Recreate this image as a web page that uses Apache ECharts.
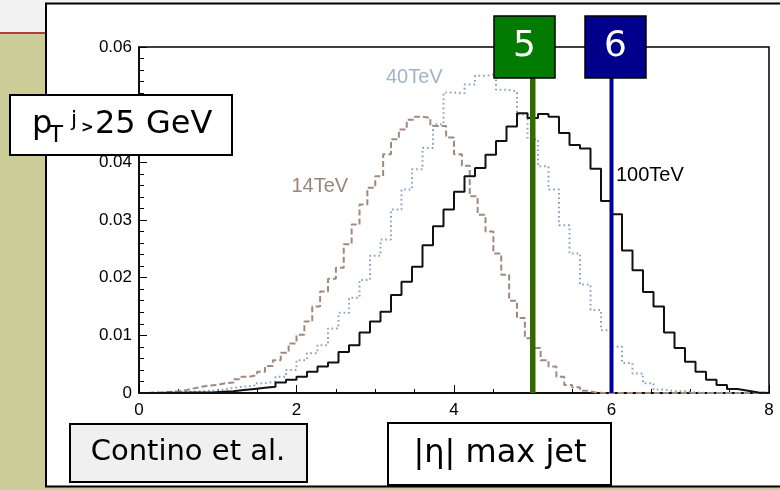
<!DOCTYPE html>
<html>
<head>
<meta charset="utf-8">
<script src="https://cdn.jsdelivr.net/npm/echarts@6/dist/echarts.min.js"></script>
<style>
html,body{margin:0;padding:0;background:#f2f2f2;}
#chart{width:780px;height:490px;}
</style>
</head>
<body>
<div id="chart"></div>
<script>
// ---- data ----
const etaMin = 0, etaMax = 8;
const bins100 = 60, bins40 = 60, bins14 = 80;
const h14 = [0,0.0001,0.0001,0.0002,0.0003,0.0005,0.0008,0.0011,0.0013,0.0014,
  0.0017,0.0018,0.0024,0.0028,0.0031,0.0037,0.0047,0.0057,0.007,0.0086,
  0.0101,0.0124,0.015,0.0176,0.0198,0.0217,0.0258,0.0292,0.0327,0.0356,
  0.0376,0.0414,0.044,0.0457,0.0474,0.0479,0.0477,0.0463,0.0463,0.0443,
  0.0414,0.0394,0.0341,0.0309,0.028,0.0242,0.0205,0.016,0.013,0.0095,
  0.0078,0.0057,0.0046,0.0028,0.0014,0.001,0.0004,0.0001,0,0,
  0,0,0,0,0,0,0,0,0,0,0,0,0,0,0,0,0,0,0,0];
const h40 = [0,0.0001,0.0001,0.0002,0.0002,0.0003,0.0004,0.0006,0.0009,0.0011,
  0.0013,0.0017,0.002,0.0028,0.004,0.0057,0.0069,0.0083,0.0112,0.0139,
  0.0165,0.0196,0.0238,0.0266,0.0318,0.0353,0.0388,0.0425,0.0466,0.0521,
  0.052,0.0535,0.055,0.0553,0.0526,0.0523,0.0483,0.044,0.0393,0.0353,
  0.0291,0.0242,0.0188,0.0144,0.0109,0.008,0.0052,0.0034,0.0017,0.0006,
  0.0003,0.0003,0.0001,0,0,0,0,0,0,0];
const h100 = [0,0,0.00005,0.00005,0.0001,0.0001,0.0001,0.0002,0.0003,0.0005,
  0.0007,0.0009,0.0011,0.0018,0.0023,0.0028,0.0037,0.0046,0.0053,0.0071,
  0.0083,0.0105,0.0124,0.0141,0.017,0.0193,0.0219,0.0256,0.0289,0.0318,
  0.0349,0.0376,0.039,0.0413,0.0437,0.0462,0.0485,0.0477,0.0484,0.0479,
  0.0451,0.043,0.0424,0.0389,0.0333,0.031,0.0247,0.0213,0.0175,0.015,
  0.0105,0.0078,0.0054,0.0037,0.0023,0.0014,0.0007,0.0004,0.0001,0];
const cutValues = [5, 6];
const cutLabels = ['5', '6'];
const cutTop = 0.0547;
const xTicks = [0, 2, 4, 6, 8];
const yTicks = [0, 0.01, 0.02, 0.03, 0.04, 0.05, 0.06];
const seriesNames = ['14TeV', '40TeV', '100TeV'];

function steps(vals, nb) {
  const w = (etaMax - etaMin) / nb;
  const pts = [];
  vals.forEach((v, i) => { pts.push([etaMin + i * w, v]); pts.push([etaMin + (i + 1) * w, v]); });
  return pts;
}

const chart = echarts.init(document.getElementById('chart'), null, {renderer: 'canvas'});
const axisFont = {fontFamily: 'Liberation Sans', fontSize: 17, color: '#000'};
const comic = 'DejaVu Sans';

const option = {
  animation: false,
  backgroundColor: '#f2f2f2',
  grid: {left: 139, top: 47, right: 11, bottom: 97, show: true, borderColor: '#000', borderWidth: 1.5, backgroundColor: 'transparent'},
  xAxis: {
    type: 'value', min: xTicks[0], max: xTicks[xTicks.length - 1], interval: 2,
    axisLine: {show: true, onZero: false, lineStyle: {color: '#000', width: 1.5}},
    axisTick: {show: true, inside: true, length: 8, lineStyle: {color: '#000', width: 1}},
    minorTick: {show: true, splitNumber: 4, length: 4, lineStyle: {color: '#000', width: 1}},
    splitLine: {show: false},
    axisLabel: Object.assign({margin: 9, formatter: v => String(v)}, axisFont)
  },
  yAxis: {
    type: 'value', min: yTicks[0], max: yTicks[yTicks.length - 1], interval: 0.01,
    axisLine: {show: true, onZero: false, lineStyle: {color: '#000', width: 1.5}},
    axisTick: {show: true, inside: true, length: 8, lineStyle: {color: '#000', width: 1}},
    minorTick: {show: true, splitNumber: 5, length: 5, lineStyle: {color: '#000', width: 1}},
    splitLine: {show: false},
    axisLabel: Object.assign({margin: 7, formatter: v => v === 0 ? '0' : v.toFixed(2)}, axisFont)
  },
  series: [
    {name: seriesNames[0], type: 'line', data: steps(h14, bins14), showSymbol: false, symbol: 'none', z: 3,
      lineStyle: {color: '#a08a7e', width: 2, type: [6, 3]}},
    {name: seriesNames[1], type: 'line', data: steps(h40, bins40), showSymbol: false, symbol: 'none', z: 3,
      lineStyle: {color: '#84a0c4', width: 2, type: [1.6, 3]}},
    {name: seriesNames[2], type: 'line', data: steps(h100, bins100), showSymbol: false, symbol: 'none', z: 4,
      lineStyle: {color: '#111', width: 2}},
    {name: 'cut5', type: 'line', data: [[cutValues[0], 0], [cutValues[0], cutTop]], showSymbol: false, symbol: 'none', z: 5,
      lineStyle: {color: '#336a00', width: 5.5}},
    {name: 'cut6', type: 'line', data: [[cutValues[1], 0], [cutValues[1], cutTop]], showSymbol: false, symbol: 'none', z: 5,
      lineStyle: {color: '#0000a0', width: 4}}
  ],
  graphic: [
    // slide background
    {type: 'rect', z: -10, shape: {x: 0, y: 34, width: 46, height: 456}, style: {fill: '#cccc99'}},
    {type: 'rect', z: -10, shape: {x: 0, y: 487, width: 780, height: 3}, style: {fill: '#cccc99'}},
    {type: 'line', z: -10, shape: {x1: 0, y1: 33, x2: 46, y2: 33}, style: {stroke: '#a00000', lineWidth: 1.5}},
    {type: 'rect', z: -9, shape: {x: 46, y: 3.5, width: 760, height: 483}, style: {fill: '#fff', stroke: '#000', lineWidth: 2}},
    // series labels
    {type: 'text', z: 50, x: 386, y: 77.5, style: {text: seriesNames[1], fill: '#9fb4cb', font: '20px "Liberation Sans"', verticalAlign: 'middle'}},
    {type: 'text', z: 50, x: 291.5, y: 186.5, style: {text: seriesNames[0], fill: '#9c8476', font: '20px "Liberation Sans"', verticalAlign: 'middle'}},
    {type: 'text', z: 50, x: 616, y: 175, style: {text: seriesNames[2], fill: '#000', font: '20px "Liberation Sans"', verticalAlign: 'middle'}},
    // cut boxes
    {type: 'rect', z: 60, shape: {x: 494, y: 16, width: 61, height: 62}, style: {fill: '#007a00', stroke: '#000', lineWidth: 1.5}},
    {type: 'text', z: 61, x: 524.5, y: 47, style: {text: cutLabels[0], fill: '#fff', font: '36px "DejaVu Sans"', align: 'center', verticalAlign: 'middle'}},
    {type: 'rect', z: 60, shape: {x: 585, y: 16, width: 61, height: 62}, style: {fill: '#00008b', stroke: '#000', lineWidth: 1.5}},
    {type: 'text', z: 61, x: 615.5, y: 47, style: {text: cutLabels[1], fill: '#fff', font: '36px "DejaVu Sans"', align: 'center', verticalAlign: 'middle'}},
    // pT box
    {type: 'rect', z: 60, shape: {x: 10, y: 95, width: 222, height: 60}, style: {fill: '#fff', stroke: '#000', lineWidth: 2}},
    {type: 'text', z: 61, x: 32, y: 125, style: {text: 'p', fill: '#000', font: '32px "' + comic + '"', verticalAlign: 'middle'}},
    {type: 'text', z: 61, x: 49, y: 136, style: {text: 'T', fill: '#000', font: '23px "' + comic + '"', verticalAlign: 'middle'}},
    {type: 'text', z: 61, x: 71, y: 120, style: {text: 'j', fill: '#000', font: '22px "' + comic + '"', verticalAlign: 'middle'}},
    {type: 'text', z: 61, x: 81, y: 128, style: {text: '>', fill: '#000', font: 'bold 15px "' + comic + '"', verticalAlign: 'middle'}},
    {type: 'text', z: 61, x: 95, y: 125, style: {text: '25 GeV', fill: '#000', font: '32px "' + comic + '"', verticalAlign: 'middle'}},
    // bottom boxes
    {type: 'rect', z: 60, shape: {x: 70, y: 424, width: 237, height: 58}, style: {fill: '#f0f0f0', stroke: '#000', lineWidth: 2}},
    {type: 'text', z: 61, x: 188, y: 452.5, style: {text: 'Contino et al.', fill: '#000', font: '29px "' + comic + '"', align: 'center', verticalAlign: 'middle'}},
    {type: 'rect', z: 60, shape: {x: 388, y: 423, width: 223, height: 62}, style: {fill: '#fff', stroke: '#000', lineWidth: 2}},
    {type: 'text', z: 61, x: 500, y: 454, style: {text: '|η| max jet', fill: '#000', font: '32px "' + comic + '"', align: 'center', verticalAlign: 'middle'}}
  ]
};
chart.setOption(option);
</script>
</body>
</html>
